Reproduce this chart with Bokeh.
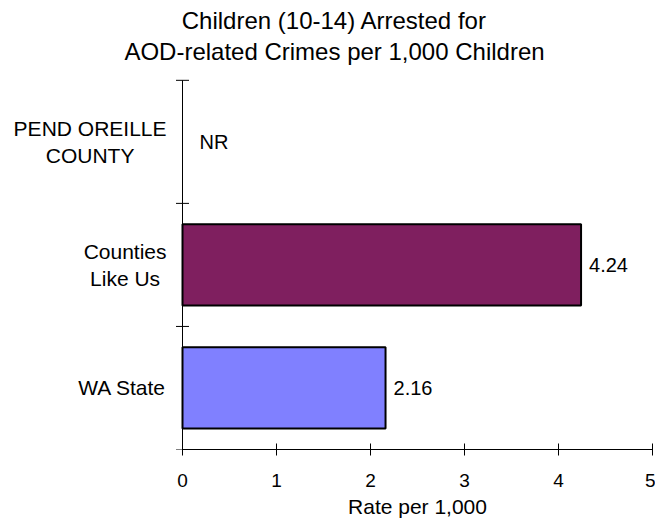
from bokeh.plotting import figure
from bokeh.models import ColumnDataSource, FixedTicker, Range1d, Title
from bokeh.embed import file_html
from bokeh.resources import INLINE
from bokeh.core.properties import value

# ---- data ----
categories = ["PEND OREILLE\nCOUNTY", "Counties\nLike Us", "WA State"]
rates = [None, 4.24, 2.16]
rate_labels = ["NR", "4.24", "2.16"]
bar_colors = ["#FFFFFF", "#7F1F5F", "#8080FF"]
x_ticks = [0, 1, 2, 3, 4, 5]
title_lines = ["Children (10-14) Arrested for",
               "AOD-related Crimes per 1,000 Children"]
x_label = "Rate per 1,000"

# ---- style / layout (canvas pixels) ----
FONT = "Liberation Sans"
W, H = 655, 520
FRAME_RIGHT = 652        # canvas x of x = 5
AXIS_X_PX = 182          # canvas x of x = 0
PLOT_TOP = 80            # canvas y of the top category boundary
PLOT_BOTTOM = 450        # canvas y of the value axis
TITLE_CX = 334           # canvas x of the title centre
TITLE_CY = 36            # canvas y of the title block centre
CAT_FONT_PX = 21
CAT_GAP_PX = 16
XLABEL_FONT_PX = 21

n = len(categories)
ypos = [n - 0.5 - i for i in range(n)]
x_min, x_max = x_ticks[0], x_ticks[-1]
px_x = (FRAME_RIGHT - AXIS_X_PX) / (x_max - x_min)
px_y = (PLOT_BOTTOM - PLOT_TOP) / n
x_start = x_min - AXIS_X_PX / px_x
y_end = n + PLOT_TOP / px_y

# Arial / Liberation Sans advance widths (1/1000 em)
_W = {' ': 278, ',': 278, '-': 333, '(': 333, ')': 333, 'A': 667, 'C': 722,
      'D': 722, 'E': 667, 'I': 278, 'L': 556, 'N': 722, 'O': 778, 'P': 667,
      'R': 722, 'S': 667, 'T': 611, 'U': 722, 'W': 944, 'Y': 667, 'a': 556,
      'c': 500, 'd': 556, 'e': 556, 'f': 278, 'h': 556, 'i': 222, 'k': 500,
      'l': 222, 'm': 833, 'n': 556, 'o': 556, 'p': 556, 'r': 333, 's': 500,
      't': 278, 'u': 556}


def text_px(s, size):
    return max(sum(_W.get(c, 556) for c in line) for line in s.split("\n")) * size / 1000


p = figure(width=W, height=H, output_backend="svg", toolbar_location=None,
           x_range=Range1d(x_start, x_max), y_range=Range1d(0, y_end),
           min_border_left=0, min_border_right=W - FRAME_RIGHT,
           min_border_top=0, min_border_bottom=H - PLOT_BOTTOM)
p.title.text = ""
p.outline_line_color = None
p.grid.visible = False
p.background_fill_color = "white"
p.border_fill_color = "white"
p.yaxis.visible = False

# chart title (two centred lines)
p.text(x=[(TITLE_CX - AXIS_X_PX) / px_x], y=[n + (PLOT_TOP - TITLE_CY) / px_y],
       text=["\n".join(title_lines)], text_font=value(FONT), text_font_size="24px",
       text_color="black", text_align="center", text_baseline="middle",
       text_line_height=1.15)

# bars
idx = [i for i, r in enumerate(rates) if r is not None]
bar_src = ColumnDataSource(dict(
    y=[ypos[i] for i in idx],
    right=[rates[i] for i in idx],
    color=[bar_colors[i] for i in idx],
))
p.hbar(y="y", left=0, right="right", height=0.66, fill_color="color",
       line_color="black", line_width=2, source=bar_src)

# category axis line and boundary ticks at x = 0
p.segment(x0=[0], y0=[0], x1=[0], y1=[n], line_color="black", line_width=1)
p.scatter(x=[0] * (n + 1), y=list(range(n + 1)), marker="dash", size=13,
          line_color="black", line_width=1)

# value labels
val_src = ColumnDataSource(dict(
    x=[r if r is not None else 0 for r in rates],
    y=ypos,
    text=rate_labels,
    xoff=[17 if r is None else 8 for r in rates],
))
p.text(x="x", y="y", text="text", x_offset="xoff", source=val_src,
       text_font=value(FONT), text_font_size="20px", text_color="black",
       text_align="left", text_baseline="middle")

# category labels: block right-aligned near the axis, lines centred
cat_src = ColumnDataSource(dict(
    x=[0] * n, y=ypos, text=categories,
    xoff=[-(CAT_GAP_PX + text_px(c, CAT_FONT_PX) / 2) for c in categories],
))
p.text(x="x", y="y", text="text", x_offset="xoff", source=cat_src,
       text_font=value(FONT), text_font_size=f"{CAT_FONT_PX}px", text_color="black",
       text_align="center", text_baseline="middle", text_line_height=1.2)

# x axis
xa = p.xaxis[0]
xa.bounds = (x_min, x_max)
xa.ticker = FixedTicker(ticks=x_ticks)
xa.major_tick_in = 6
xa.major_tick_out = 6
xa.minor_tick_line_color = None
xa.axis_line_color = "black"
xa.major_tick_line_color = "black"
xa.major_label_text_font = FONT
xa.major_label_text_font_size = "19px"
xa.major_label_text_color = "black"
xa.major_label_standoff = 18

# x axis title, centred under the 0..5 span
xl_w = text_px(x_label, XLABEL_FONT_PX)
p.add_layout(Title(text=x_label, align="left",
                   offset=(AXIS_X_PX + FRAME_RIGHT) / 2 - xl_w / 2,
                   text_font=FONT, text_font_size=f"{XLABEL_FONT_PX}px",
                   text_font_style="normal", text_color="black", standoff=6), "below")

open("out.html", "w").write(file_html(p, INLINE))
